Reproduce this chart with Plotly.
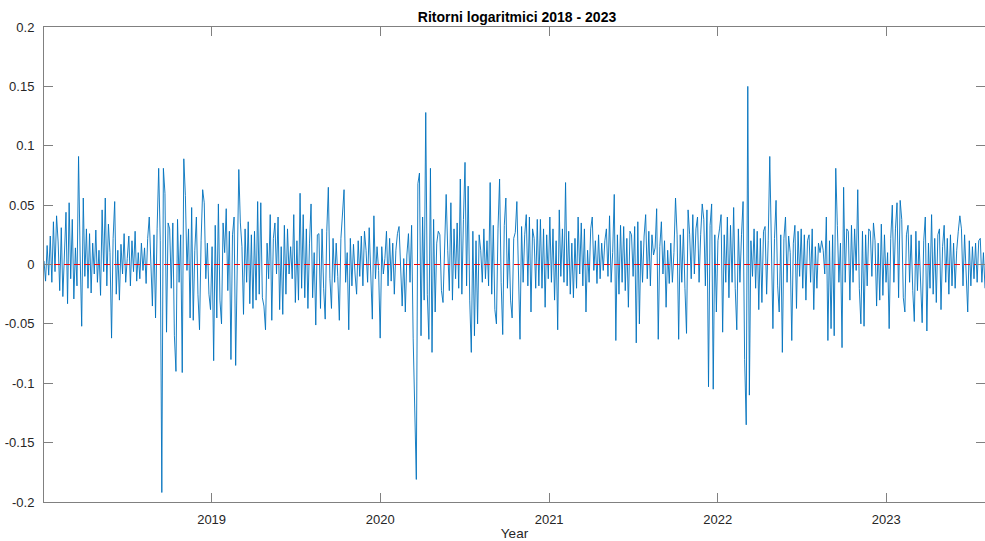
import pandas as pd
import plotly.graph_objects as go

# Period covered by the series
start_date = "2018-01-03"
end_date = "2023-08-03"

# Daily log returns, in thousandths (one row = 20 observations)
returns_milli = [
    3, -14, 16, -9, 24, -15, 36, -6, 41, 19, -22, 31, -27, 13, 44, -33, 52, -12, 38, -29,
    14, -18, 91, 8, -52, 56, -10, 30, -20, 26, -24, 18, -8, 29, -15, 12, -26, 46, -6, 56,
    -18, 34, 10, -62, 22, 53, -25, 12, -30, 17, -8, 26, -15, 5, 24, -18, 20, -6, 28, -14,
    10, -12, 18, -5, 14, -16, 22, 40, 8, -35, 25, -45, 30, 81, 20, -192, 81, 60, -57, 35,
    30, -20, 35, -60, -90, 38, -15, 25, -91, 89, 58, -5, 30, -45, 48, -47, 12, 40, -25, -55,
    20, 63, 52, -12, 18, -25, -38, 15, -81, 33, -45, 51, -30, -50, 35, 10, 47, -22, 28, -80,
    25, 40, -85, 10, 80, 35, 15, -42, 30, -15, 36, -33, 25, -37, 28, -30, 53, -25, 52, -28,
    -35, -55, 18, -12, 42, -47, 22, 35, -8, 40, -38, 15, -42, 33, -25, 30, -8, 15, -12, 42,
    -32, 20, -30, 60, -20, 42, -28, 30, -37, 18, 51, -28, 10, -51, 25, 26, -37, 30, -20, -46,
    28, 65, -12, -37, 22, -15, 18, -10, -47, 22, 48, 63, -15, 10, -55, 22, -18, 17, -8, -25,
    20, -10, 24, -18, 28, 12, -15, 31, -8, -46, 41, -12, 15, -5, -62, 15, -8, 5, 28, -18,
    22, -14, 18, -25, 12, 26, 32, -10, -35, 5, -40, 8, 26, -15, 33, -62, -121, -181, 68, 77,
    -60, 40, -30, 128, -25, -63, 81, -74, 38, -40, 18, 28, 25, -22, -32, 20, 59, 12, -22, 52,
    -30, 30, -12, 35, -20, 72, -25, 38, 86, -18, 66, -30, -74, 28, -60, 20, -50, 25, 12, -15,
    30, -12, 20, -18, 69, -25, 33, -38, -50, 30, 72, -15, -59, 33, 56, -20, 22, -30, -45, 22,
    27, 53, -20, -63, 32, -15, 25, 42, -18, 40, -40, 30, 22, -20, 38, -18, 38, -20, 30, -36,
    25, -12, 40, -15, 30, -30, 20, -55, 46, -10, 30, -15, 69, -18, 28, -25, 18, -28, 22, -20,
    40, -8, 35, -18, 30, -40, 12, -15, 30, 40, -5, 20, -16, 25, -12, 18, -5, 20, 30, -10,
    41, -15, 10, 59, -64, 25, -25, 33, -15, 32, -22, 22, -36, 28, 25, -10, 32, -66, 36, -50,
    20, -15, 24, 42, -12, 28, -18, 25, 8, 14, 47, -63, 15, 36, -8, 20, -36, 12, -16, 18,
    -15, 10, 56, 25, -63, 25, -15, 30, -20, -58, 46, 25, -12, 42, -8, 30, 40, -15, 25, 51,
    38, -18, 46, -103, 33, 51, -105, 25, -40, 20, 30, 42, -57, 25, -15, 40, -28, 33, -15, 48,
    -20, -55, 30, -15, 25, 53, -80, -135, 150, -110, 20, -10, 30, -20, 28, -38, 22, -32, 28, 32,
    -25, 20, 91, 15, -54, 22, 54, -18, -40, 25, -74, 22, 40, -15, 24, 10, -64, 18, 33, -37,
    28, -10, 30, -20, 25, -30, 20, 25, -15, 30, -38, 15, -20, 18, 10, 20, 12, -8, 40, -64,
    20, -54, 25, -60, 81, 33, -15, 18, -70, 65, -15, 30, 28, -30, 33, -15, 30, -5, 63, -20,
    -50, 28, -52, 25, -18, 30, 28, -10, 35, 20, -35, 18, -30, 34, -26, 25, -15, 10, -54, 22,
    50, -15, 30, 52, -28, 54, 38, -28, -40, 25, 33, -15, 25, -22, -48, 28, -22, 20, -10, -49,
    20, 40, -56, 18, -20, 42, -25, 22, -32, 25, 30, -38, 15, 33, -15, 22, -25, 25, -18, 18,
    -20, 12, 28, 41, 30, -18, 25, -15, -40, 20, -18, 15, -12, 18, -15, 20, 22, -15, 10, -20,
]

# Axis ticks
y_tick_vals = [0.2, 0.15, 0.1, 0.05, 0, -0.05, -0.1, -0.15, -0.2]
y_tick_text = ["0.2", "0.15", "0.1", "0.05", "0", "-0.05", "-0.1", "-0.15", "-0.2"]
x_tick_years = ["2019", "2020", "2021", "2022", "2023"]

dates = pd.date_range(start_date, end_date, periods=len(returns_milli))
returns = [v / 1000 for v in returns_milli]

axis_color = "#808080"
text_color = "#262626"
font_family = "Liberation Sans, Arial, Helvetica, sans-serif"

fig = go.Figure()
fig.add_trace(go.Scatter(
    x=dates, y=returns, mode="lines",
    line=dict(color="#0072BD", width=0.9),
    hoverinfo="x+y", showlegend=False,
))
# Zero reference line
fig.add_trace(go.Scatter(
    x=[dates[0], dates[-1]], y=[0, 0], mode="lines",
    line=dict(color="#FF0000", width=1, dash="6px,4px"),
    hoverinfo="skip", showlegend=False,
))

fig.update_layout(
    width=985, height=541,
    margin=dict(l=44, r=0, t=27, b=39),
    paper_bgcolor="white", plot_bgcolor="white",
    font=dict(family=font_family, size=13, color=text_color),
    title=dict(
        text="<b>Ritorni logaritmici 2018 - 2023</b>",
        x=517 / 985, xref="container", xanchor="center",
        y=1 - 17 / 541, yref="container", yanchor="middle",
        font=dict(family=font_family, size=14, color="#000000"),
    ),
)
fig.update_xaxes(
    type="date",
    range=[dates[0], dates[-1]],
    tickvals=[f"{y}-01-01" for y in x_tick_years],
    ticktext=x_tick_years,
    ticks="inside", ticklen=9, tickwidth=1, tickcolor=axis_color,
    showline=True, linecolor=axis_color, linewidth=1, mirror="ticks",
    showgrid=False, zeroline=False,
    tickfont=dict(size=13, color=text_color),
    ticklabelstandoff=5,
    title=dict(text="Year", font=dict(size=13.5, color=text_color), standoff=6),
)
fig.update_yaxes(
    range=[-0.2, 0.2],
    tickvals=y_tick_vals, ticktext=y_tick_text,
    ticks="inside", ticklen=9, tickwidth=1, tickcolor=axis_color,
    showline=True, linecolor=axis_color, linewidth=1, mirror="ticks",
    showgrid=False, zeroline=False,
    tickfont=dict(size=13, color=text_color),
    ticklabelstandoff=6,
)

fig.write_html("out.html")
